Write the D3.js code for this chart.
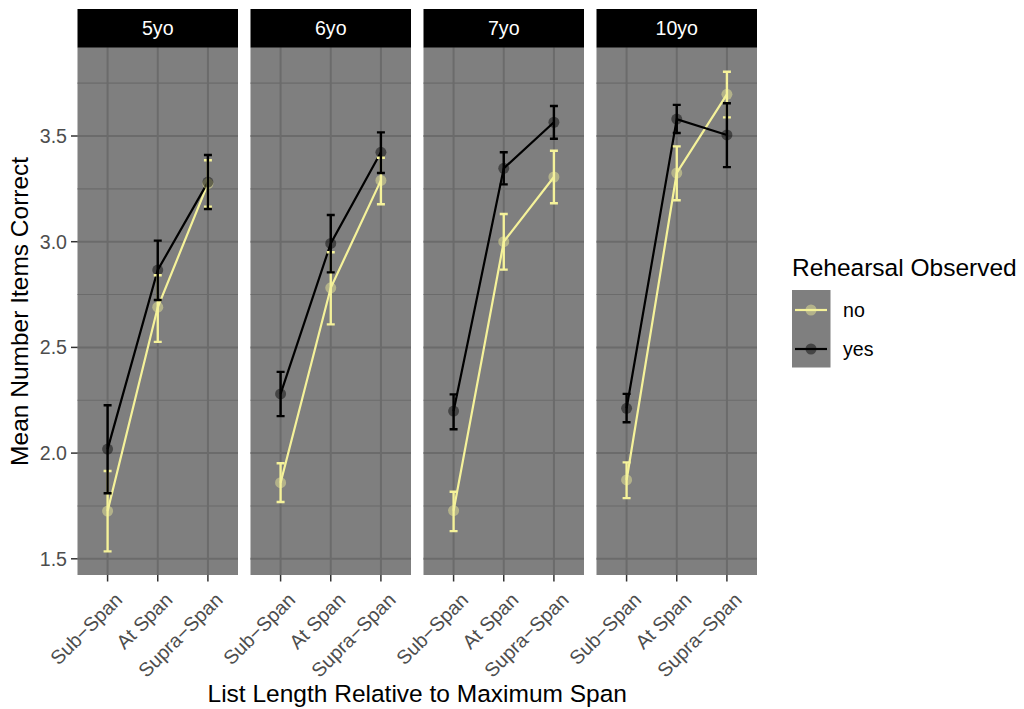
<!DOCTYPE html>
<html><head><meta charset="utf-8">
<script src="https://cdn.jsdelivr.net/npm/d3@7"></script>
<style>body{margin:0;background:#fff;} svg{display:block;font-family:"Liberation Sans",Arial,sans-serif;}</style>
</head><body>
<script>
const ages = ["5yo","6yo","7yo","10yo"];
const spans = ["Sub\u2212Span","At Span","Supra\u2212Span"];
const groups = ["no","yes"];
const groupColors = ["#F5F29A","#000000"];
// means per age, per span
const meanNo  = [[1.726,2.69,3.275],[1.86,2.782,3.29],[1.728,3.0,3.306],[1.873,3.325,3.697]];
const lowNo   = [[1.535,2.526,3.165],[1.769,2.609,3.177],[1.631,2.868,3.182],[1.787,3.196,3.588]];
const highNo  = [[1.915,2.841,3.385],[1.952,2.95,3.397],[1.817,3.131,3.43],[1.956,3.451,3.804]];
const meanYes = [[2.019,2.866,3.282],[2.28,2.992,3.423],[2.199,3.347,3.565],[2.212,3.58,3.505]];
const lowYes  = [[1.81,2.724,3.155],[2.175,2.855,3.325],[2.113,3.271,3.487],[2.146,3.514,3.353]];
const highYes = [[2.226,3.005,3.41],[2.384,3.126,3.517],[2.278,3.423,3.642],[2.28,3.647,3.655]];
const yTicks = [1.5,2.0,2.5,3.0,3.5];
const yMinor = [1.75,2.25,2.75,3.25,3.75];

const W=1024,H=709;
const svg=d3.select("body").append("svg").attr("width",W).attr("height",H);
const panelTop=47.7, panelBot=575, stripTop=9;
const panelX=[77.5,250.5,423.5,596.5], panelW=160.5;
const y=d3.scaleLinear().domain([1.5,3.5]).range([558.8,136]);
const gridCol="#6B6B6B";

const series=[
  {mean:meanNo,low:lowNo,high:highNo,color:groupColors[0]},
  {mean:meanYes,low:lowYes,high:highYes,color:groupColors[1]}
];

ages.forEach((age,i)=>{
  const x=d3.scalePoint().domain(spans).range([panelX[i]+0.6*panelW/3.2,panelX[i]+2.6*panelW/3.2]);
  const xp=s=>x(s);
  const g=svg.append("g");
  g.append("rect").attr("x",panelX[i]).attr("y",panelTop).attr("width",panelW).attr("height",panelBot-panelTop).attr("fill","#7F7F7F");
  yMinor.forEach(v=>g.append("line").attr("x1",panelX[i]).attr("x2",panelX[i]+panelW).attr("y1",y(v)).attr("y2",y(v)).attr("stroke",gridCol).attr("stroke-width",1.1));
  yTicks.forEach(v=>g.append("line").attr("x1",panelX[i]).attr("x2",panelX[i]+panelW).attr("y1",y(v)).attr("y2",y(v)).attr("stroke",gridCol).attr("stroke-width",2));
  spans.forEach(s=>g.append("line").attr("x1",xp(s)).attr("x2",xp(s)).attr("y1",panelTop).attr("y2",panelBot).attr("stroke",gridCol).attr("stroke-width",2));
  // strip
  g.append("rect").attr("x",panelX[i]).attr("y",stripTop).attr("width",panelW).attr("height",panelTop-stripTop).attr("fill","#000");
  g.append("text").attr("x",panelX[i]+panelW/2).attr("y",(stripTop+panelTop)/2).attr("dy","0.35em").attr("text-anchor","middle").attr("fill","#fff").attr("font-size",19.6).text(age);
  // x ticks
  spans.forEach(s=>{
    g.append("line").attr("x1",xp(s)).attr("x2",xp(s)).attr("y1",panelBot).attr("y2",panelBot+6.5).attr("stroke","#333").attr("stroke-width",1.5);
    g.append("text").attr("transform",`translate(${xp(s)+6},${panelBot+16}) rotate(-45)`).attr("text-anchor","end").attr("dy","0.72em").attr("fill","#4D4D4D").attr("font-size",19.6).text(s);
  });
  const line=d3.line().x((d,k)=>xp(spans[k])).y(d=>y(d));
  series.forEach(se=>{
    g.append("path").attr("d",line(se.mean[i])).attr("fill","none").attr("stroke",se.color).attr("stroke-width",2.2);
  });
  series.forEach(se=>{
    se.mean[i].forEach((v,k)=>g.append("circle").attr("cx",xp(spans[k])).attr("cy",y(v)).attr("r",5.5).attr("fill",se.color).attr("fill-opacity",0.45));
  });
  series.forEach(se=>{
    spans.forEach((s,k)=>{
      const cx=xp(s),lo=y(se.low[i][k]),hi=y(se.high[i][k]);
      const p=`M${cx-4},${hi}H${cx+4}M${cx},${hi}V${lo}M${cx-4},${lo}H${cx+4}`;
      g.append("path").attr("d",p).attr("fill","none").attr("stroke",se.color).attr("stroke-width",2.4);
    });
  });
});
// y axis
yTicks.forEach(v=>{
  svg.append("line").attr("x1",71).attr("x2",77.5).attr("y1",y(v)).attr("y2",y(v)).attr("stroke","#333").attr("stroke-width",1.5);
  svg.append("text").attr("x",67).attr("y",y(v)).attr("dy","0.35em").attr("text-anchor","end").attr("fill","#4D4D4D").attr("font-size",19.6).text(d3.format(".1f")(v));
});
svg.append("text").attr("transform",`translate(28,${(panelTop+panelBot)/2}) rotate(-90)`).attr("text-anchor","middle").attr("font-size",24.5).attr("fill","#000").text("Mean Number Items Correct");
svg.append("text").attr("x",(panelX[0]+panelX[3]+panelW)/2).attr("y",702).attr("text-anchor","middle").attr("font-size",24.5).attr("fill","#000").text("List Length Relative to Maximum Span");
// legend
svg.append("text").attr("x",792).attr("y",276).attr("font-size",24.5).attr("fill","#000").text("Rehearsal Observed");
svg.append("rect").attr("x",792).attr("y",290).attr("width",38.5).attr("height",77.5).attr("fill","#7F7F7F");
groups.forEach((gname,k)=>{
  const ly=310+k*39;
  svg.append("line").attr("x1",795).attr("x2",827).attr("y1",ly).attr("y2",ly).attr("stroke",groupColors[k]).attr("stroke-width",2.2);
  svg.append("circle").attr("cx",811).attr("cy",ly).attr("r",5.5).attr("fill",groupColors[k]).attr("fill-opacity",0.45);
  svg.append("text").attr("x",843).attr("y",ly).attr("dy","0.35em").attr("font-size",19.6).attr("fill","#000").text(gname);
});
</script>
</body></html>
